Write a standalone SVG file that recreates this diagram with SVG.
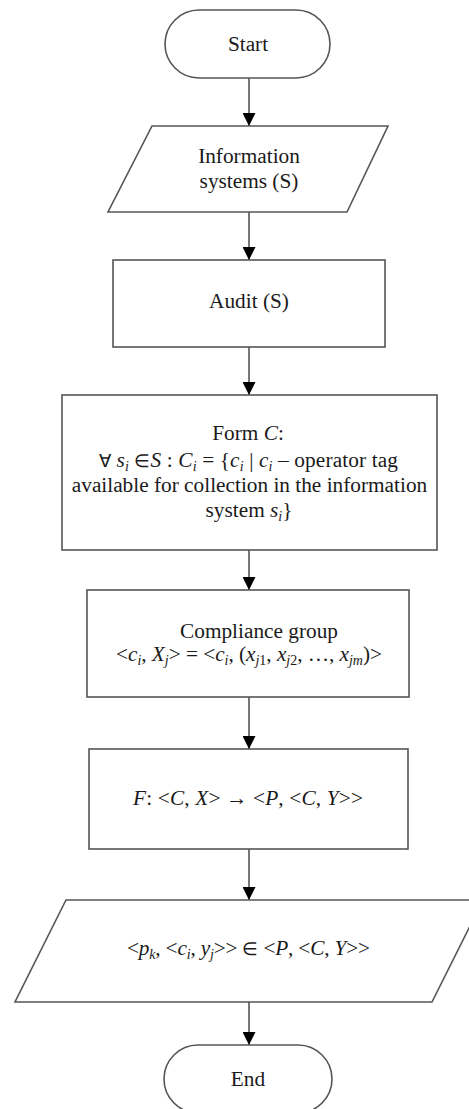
<svg xmlns="http://www.w3.org/2000/svg" width="469" height="1109" viewBox="0 0 469 1109">
  <style>
    .shape { fill: #ffffff; stroke: #555555; stroke-width: 1.6; }
    .edge { fill: none; stroke: #555555; stroke-width: 1.6; }
    text { font-family: 'Liberation Serif', 'Times New Roman', serif; font-size: 21.3px; fill: #1a1a1a; text-anchor: middle; }
    .i { font-style: italic; }
    .sub { font-size: 14px; }
    .sym { font-size: 18px; }
  </style>
  <defs>
    <marker id="arrow" markerUnits="userSpaceOnUse" markerWidth="13" markerHeight="13" refX="13" refY="6.5" orient="auto">
      <path d="M0,0 L13,6.5 L0,13 Z" fill="#000000"/>
    </marker>
  </defs>

  <rect width="469" height="1109" fill="#ffffff"/>

  <!-- connectors -->
  <g id="connectors">
    <line class="edge" x1="249" y1="78" x2="249" y2="126" marker-end="url(#arrow)"/>
    <line class="edge" x1="249" y1="212" x2="249" y2="260" marker-end="url(#arrow)"/>
    <line class="edge" x1="249" y1="347" x2="249" y2="395" marker-end="url(#arrow)"/>
    <line class="edge" x1="249" y1="550" x2="249" y2="590" marker-end="url(#arrow)"/>
    <line class="edge" x1="249" y1="697" x2="249" y2="749" marker-end="url(#arrow)"/>
    <line class="edge" x1="249" y1="849" x2="249" y2="900" marker-end="url(#arrow)"/>
    <line class="edge" x1="249" y1="1002" x2="249" y2="1045" marker-end="url(#arrow)"/>
  </g>

  <!-- terminal: start -->
  <g id="start">
    <rect class="shape" x="165" y="10" width="165" height="68" rx="34" ry="34"/>
    <text x="248" y="51">Start</text>
  </g>

  <!-- input: information systems -->
  <g id="information-systems">
    <polygon class="shape" points="152,126 388,126 347,212 108,212"/>
    <text x="249" y="163">Information</text>
    <text x="249" y="188">systems (S)</text>
  </g>

  <!-- process: audit -->
  <g id="audit">
    <rect class="shape" x="113" y="260" width="272" height="87"/>
    <text x="249" y="308">Audit (S)</text>
  </g>

  <!-- process: form C -->
  <g id="form-c">
    <rect class="shape" x="62" y="395" width="375" height="155"/>
    <text x="248" y="440">Form <tspan class="i">C</tspan>:</text>
    <text x="248.5" y="467" textLength="299" lengthAdjust="spacing"><tspan class="sym">∀</tspan> <tspan class="i">s</tspan><tspan class="sub i" dy="4">i</tspan><tspan dy="-4"> </tspan><tspan class="sym">∈</tspan><tspan class="i">S</tspan> : <tspan class="i">C</tspan><tspan class="sub i" dy="4">i</tspan><tspan dy="-4"> = {</tspan><tspan class="i">c</tspan><tspan class="sub i" dy="4">i</tspan><tspan dy="-4"> | </tspan><tspan class="i">c</tspan><tspan class="sub i" dy="4">i</tspan><tspan dy="-4"> – operator tag</tspan></text>
    <text x="249.5" y="492">available for collection in the information</text>
    <text x="249" y="517">system <tspan class="i">s</tspan><tspan class="sub i" dy="4">i</tspan><tspan dy="-4">}</tspan></text>
  </g>

  <!-- process: compliance group -->
  <g id="compliance-group">
    <rect class="shape" x="87" y="590" width="322" height="107"/>
    <text x="259" y="638">Compliance group</text>
    <text x="249" y="661" textLength="266" lengthAdjust="spacing">&lt;<tspan class="i">c</tspan><tspan class="sub i" dy="4">i</tspan><tspan dy="-4">, </tspan><tspan class="i">X</tspan><tspan class="sub i" dy="4">j</tspan><tspan dy="-4">&gt; = &lt;</tspan><tspan class="i">c</tspan><tspan class="sub i" dy="4">i</tspan><tspan dy="-4">, (</tspan><tspan class="i">x</tspan><tspan class="sub" dy="4"><tspan class="i">j</tspan>1</tspan><tspan dy="-4">, </tspan><tspan class="i">x</tspan><tspan class="sub" dy="4"><tspan class="i">j</tspan>2</tspan><tspan dy="-4">, …, </tspan><tspan class="i">x</tspan><tspan class="sub i" dy="4">jm</tspan><tspan dy="-4">)&gt;</tspan></text>
  </g>

  <!-- process: mapping F -->
  <g id="mapping-f">
    <rect class="shape" x="89" y="749" width="319" height="100"/>
    <text x="248" y="805" textLength="230" lengthAdjust="spacing"><tspan class="i">F</tspan>: &lt;<tspan class="i">C</tspan>, <tspan class="i">X</tspan>&gt; → &lt;<tspan class="i">P</tspan>, &lt;<tspan class="i">C</tspan>, <tspan class="i">Y</tspan>&gt;&gt;</text>
  </g>

  <!-- output: result tuples -->
  <g id="result">
    <polygon class="shape" points="66,900 483,900 432,1002 15,1002"/>
    <text x="248.5" y="955" textLength="243" lengthAdjust="spacing">&lt;<tspan class="i">p</tspan><tspan class="sub i" dy="4">k</tspan><tspan dy="-4">, &lt;</tspan><tspan class="i">c</tspan><tspan class="sub i" dy="4">i</tspan><tspan dy="-4">, </tspan><tspan class="i">y</tspan><tspan class="sub i" dy="4">j</tspan><tspan dy="-4">&gt;&gt; </tspan><tspan class="sym">∈</tspan> &lt;<tspan class="i">P</tspan>, &lt;<tspan class="i">C</tspan>, <tspan class="i">Y</tspan>&gt;&gt;</text>
  </g>

  <!-- terminal: end -->
  <g id="end">
    <rect class="shape" x="164" y="1045" width="168" height="68" rx="34" ry="34"/>
    <text x="248" y="1086">End</text>
  </g>
</svg>
